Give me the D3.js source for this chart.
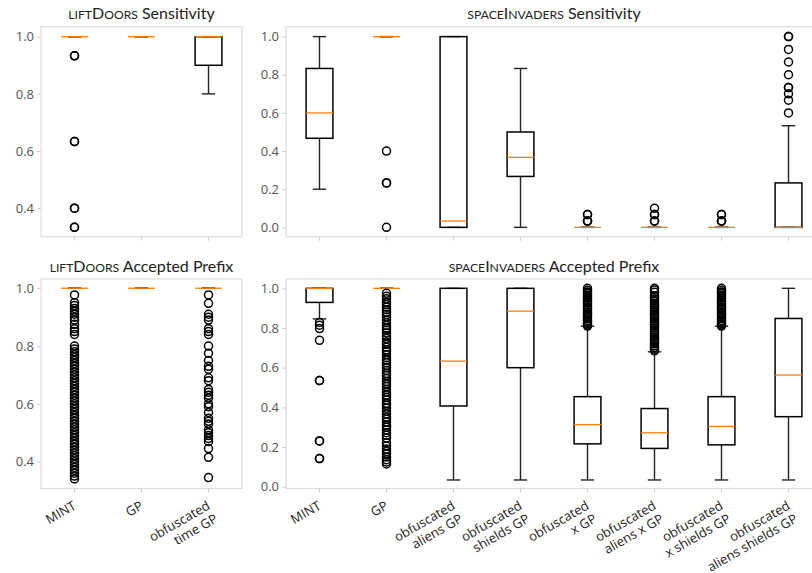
<!DOCTYPE html>
<html>
<head>
<meta charset="utf-8">
<script src="https://cdn.jsdelivr.net/npm/d3@7"></script>
<style>
  body { margin: 0; background: #fff; }
  svg { display: block; }
</style>
</head>
<body>
<div id="chart"></div>
<script>
// categories (x labels)
const liftCats = ["MINT", "GP", "obfuscated\ntime GP"];
const spaceCats = ["MINT", "GP", "obfuscated\naliens GP", "obfuscated\nshields GP", "obfuscated\nx GP",
  "obfuscated\naliens x GP", "obfuscated\nx shields GP", "obfuscated\naliens shields GP"];

// box stats: [whisker low, q1, median, q3, whisker high]
const liftSensStats = [[1, 1, 1, 1, 1], [1, 1, 1, 1, 1], [0.8, 0.9, 1, 1, 1]];
const liftSensFliers = [[0.933, 0.933, 0.633, 0.633, 0.4, 0.4, 0.333, 0.333], [], []];

const spaceSensStats = [
  [0.2, 0.467, 0.6, 0.833, 1.0],
  [1, 1, 1, 1, 1],
  [0, 0, 0.033, 1, 1],
  [0, 0.267, 0.367, 0.5, 0.833],
  [0, 0, 0, 0, 0],
  [0, 0, 0, 0, 0],
  [0, 0, 0, 0, 0],
  [0, 0, 0, 0.233, 0.533]
];
const spaceSensFliers = [
  [],
  [0.4, 0.233, 0.233, 0.0],
  [],
  [],
  [0.067, 0.067, 0.033, 0.033, 0.033],
  [0.1, 0.067, 0.067, 0.033, 0.033],
  [0.067, 0.067, 0.033, 0.033, 0.033],
  [0.6, 0.667, 0.7, 0.733, 0.733, 0.8, 0.867, 0.933, 1.0, 1.0]
];

const liftPrefStats = [[1, 1, 1, 1, 1], [1, 1, 1, 1, 1], [1, 1, 1, 1, 1]];
const liftPrefFliers = [
  [0.977, 0.95, 0.94, 0.93, 0.92, 0.91, 0.9, 0.89, 0.875, 0.86, 0.85, 0.84, 0.8, 0.79, 0.78, 0.77,
   0.76, 0.75, 0.74, 0.73, 0.72, 0.71, 0.7, 0.69, 0.68, 0.67, 0.66, 0.65, 0.64, 0.63, 0.62, 0.61,
   0.6, 0.59, 0.58, 0.57, 0.56, 0.55, 0.54, 0.53, 0.52, 0.51, 0.5, 0.49, 0.48, 0.47, 0.46, 0.45,
   0.44, 0.43, 0.42, 0.41, 0.4, 0.39, 0.38, 0.37, 0.36, 0.35, 0.34],
  [],
  [0.977, 0.948, 0.91, 0.9, 0.89, 0.86, 0.85, 0.84, 0.8, 0.775, 0.75, 0.73, 0.72, 0.69, 0.68, 0.65,
   0.64, 0.63, 0.62, 0.6, 0.59, 0.57, 0.55, 0.54, 0.53, 0.51, 0.5, 0.49, 0.48, 0.47, 0.445, 0.415, 0.345]
];

const spacePrefStats = [
  [0.846, 0.929, 1, 1, 1],
  [1, 1, 1, 1, 1],
  [0.034, 0.407, 0.633, 1, 1],
  [0.034, 0.6, 0.885, 1, 1],
  [0.034, 0.216, 0.313, 0.454, 0.809],
  [0.034, 0.193, 0.272, 0.394, 0.68],
  [0.034, 0.211, 0.304, 0.454, 0.809],
  [0.034, 0.353, 0.563, 0.848, 1]
];
const spacePrefFliers = [
  [0.828, 0.814, 0.797, 0.738, 0.535, 0.535, 0.231, 0.231, 0.142, 0.142],
  [0.975, 0.96, 0.947, 0.93, 0.918, 0.905, 0.892, 0.88, 0.868, 0.855, 0.84, 0.826, 0.812, 0.8,
   0.79, 0.775, 0.76, 0.747, 0.73, 0.718, 0.703, 0.69, 0.68, 0.666, 0.65, 0.638, 0.625, 0.612,
   0.6, 0.586, 0.571, 0.56, 0.545, 0.53, 0.518, 0.505, 0.49, 0.476, 0.462, 0.45, 0.437, 0.42,
   0.41, 0.396, 0.38, 0.367, 0.352, 0.34, 0.326, 0.31, 0.3, 0.286, 0.272, 0.26, 0.245, 0.222,
   0.205, 0.19, 0.178, 0.165, 0.15, 0.136, 0.125, 0.115],
  [],
  [],
  [1.0, 0.99, 0.982, 0.975, 0.966, 0.958, 0.95, 0.94, 0.932, 0.925, 0.915, 0.905, 0.898, 0.89,
   0.88, 0.872, 0.865, 0.855, 0.847, 0.838, 0.83, 0.822, 0.815, 0.81],
  [1.0, 0.992, 0.98, 0.962, 0.955, 0.945, 0.935, 0.925, 0.917, 0.908, 0.9, 0.89, 0.88, 0.87,
   0.862, 0.853, 0.845, 0.835, 0.826, 0.818, 0.81, 0.8, 0.79, 0.782, 0.773, 0.765, 0.755, 0.745,
   0.737, 0.728, 0.72, 0.71, 0.702, 0.693, 0.685],
  [1.0, 0.99, 0.982, 0.975, 0.966, 0.958, 0.95, 0.94, 0.932, 0.925, 0.915, 0.905, 0.898, 0.89,
   0.88, 0.872, 0.865, 0.855, 0.847, 0.838, 0.83, 0.822, 0.815, 0.81],
  []
];

const liftTicks = [0.4, 0.6, 0.8, 1.0];
const spaceTicks = [0.0, 0.2, 0.4, 0.6, 0.8, 1.0];

const svg = d3.select("#chart")
  .append("svg")
  .attr("width", 812)
  .attr("height", 573);

// turns lowercase letters into small capitals, like \textsc
function smallCaps(sel, word, size) {
  const runs = word.match(/[a-z]+|[^a-z]+/g);
  runs.forEach(r => {
    const lower = /[a-z]/.test(r[0]);
    sel.append("tspan")
      .style("font-size", (lower ? size * 0.76 : size) + "px")
      .text(r.toUpperCase());
  });
}

function panel(p) {
  const x = d3.scaleBand().domain(p.cats).range([p.left, p.right]);
  const y = d3.scaleLinear().domain(p.domain).range([p.bottom, p.top]);
  const bw = x.bandwidth() * 0.4;
  const g = svg.append("g");

  // frame
  g.append("rect")
    .attr("x", p.left).attr("y", p.top)
    .attr("width", p.right - p.left).attr("height", p.bottom - p.top)
    .attr("fill", "none").attr("stroke", "#dcdcdc").attr("stroke-width", 1.2);

  // y axis
  const ya = g.append("g")
    .attr("transform", `translate(${p.left},0)`)
    .call(d3.axisLeft(y).tickValues(p.ticks).tickFormat(d3.format(".1f")).tickSize(4).tickPadding(3));
  ya.select(".domain").remove();
  ya.selectAll(".tick line").attr("stroke", "#cfcfcf");
  ya.selectAll(".tick text")
    .attr("fill", "#555")
    .style("font-family", "'Open Sans', sans-serif")
    .style("font-size", "13px");

  // x axis ticks
  const xa = g.append("g")
    .attr("transform", `translate(0,${p.bottom})`)
    .call(d3.axisBottom(x).tickSize(4).tickFormat(""));
  xa.select(".domain").remove();
  xa.selectAll(".tick line").attr("stroke", "#cfcfcf");

  if (p.labels) {
    p.cats.forEach(c => {
      const lab = g.append("g")
        .attr("transform", `translate(${x(c) + x.bandwidth() / 2 - 2},${p.bottom + 12}) rotate(-30)`);
      c.split("\n").forEach((line, i) => {
        lab.append("text")
          .attr("x", 0)
          .attr("y", 9 + i * 15)
          .attr("text-anchor", "end")
          .attr("fill", "#222")
          .style("font-family", "'Open Sans', sans-serif")
          .style("font-size", "13px")
          .text(line);
      });
    });
  }

  const boxes = g.selectAll(".box")
    .data(p.cats.map((c, i) => ({c, s: p.stats[i], f: p.fliers[i]})))
    .join("g")
    .attr("transform", d => `translate(${x(d.c) + x.bandwidth() / 2},0)`);

  // whiskers
  boxes.append("line")
    .attr("y1", d => y(d.s[0])).attr("y2", d => y(d.s[1]))
    .attr("stroke", "#222").attr("stroke-width", 1.4);
  boxes.append("line")
    .attr("y1", d => y(d.s[3])).attr("y2", d => y(d.s[4]))
    .attr("stroke", "#222").attr("stroke-width", 1.4);
  // caps
  [0, 4].forEach(k => {
    boxes.append("line")
      .attr("x1", -bw / 4).attr("x2", bw / 4)
      .attr("y1", d => y(d.s[k])).attr("y2", d => y(d.s[k]))
      .attr("stroke", "#222").attr("stroke-width", 1.4);
  });
  // box
  boxes.append("rect")
    .attr("x", -bw / 2).attr("width", bw)
    .attr("y", d => y(d.s[3]))
    .attr("height", d => y(d.s[1]) - y(d.s[3]))
    .attr("fill", "none").attr("stroke", "#000").attr("stroke-width", 1.5);
  // median
  boxes.append("line")
    .attr("x1", -bw / 2).attr("x2", bw / 2)
    .attr("y1", d => y(d.s[2])).attr("y2", d => y(d.s[2]))
    .attr("stroke", "#ff7f0e").attr("stroke-width", 1.3);
  // fliers
  boxes.selectAll("circle")
    .data(d => d.f)
    .join("circle")
    .attr("cx", 0).attr("cy", v => y(v)).attr("r", 4)
    .attr("fill", "none").attr("stroke", "#000").attr("stroke-width", 1.5);

  // title
  const t = g.append("text")
    .attr("x", (p.left + p.right) / 2)
    .attr("y", p.top - 7.5)
    .attr("text-anchor", "middle")
    .attr("fill", "#222")
    .style("font-family", "Lato, sans-serif")
    .style("font-size", "16px");
  smallCaps(t, p.title[0], 16);
  t.append("tspan").text(" " + p.title[1]);
}

panel({cats: liftCats, stats: liftSensStats, fliers: liftSensFliers, ticks: liftTicks,
  left: 41, right: 242, top: 26.7, bottom: 236.7, domain: [0.30, 1.035],
  title: ["liftDoors", "Sensitivity"], labels: false});
panel({cats: spaceCats, stats: spaceSensStats, fliers: spaceSensFliers, ticks: spaceTicks,
  left: 286, right: 822, top: 26.7, bottom: 236.7, domain: [-0.049, 1.052],
  title: ["spaceInvaders", "Sensitivity"], labels: false});
panel({cats: liftCats, stats: liftPrefStats, fliers: liftPrefFliers, ticks: liftTicks,
  left: 41, right: 242, top: 279, bottom: 488.5, domain: [0.307, 1.032],
  title: ["liftDoors", "Accepted Prefix"], labels: true});
panel({cats: spaceCats, stats: spacePrefStats, fliers: spacePrefFliers, ticks: spaceTicks,
  left: 286, right: 822, top: 279, bottom: 488.5, domain: [-0.009, 1.047],
  title: ["spaceInvaders", "Accepted Prefix"], labels: true});
</script>
</body>
</html>
